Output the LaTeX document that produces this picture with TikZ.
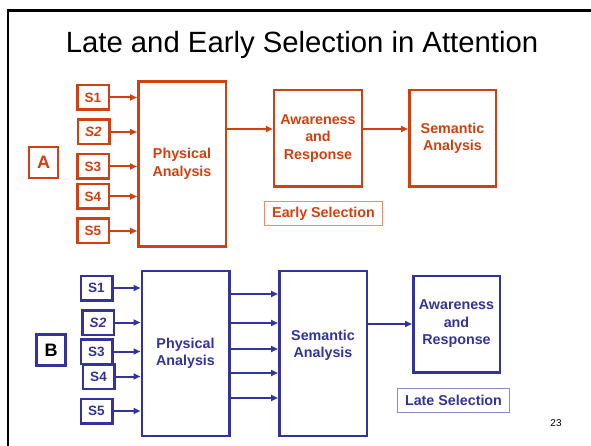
\documentclass[tikz,border=0pt]{standalone}
\usepackage{fontspec}
\setmainfont{Liberation Sans}
\usetikzlibrary{arrows.meta}
\definecolor{earlyred}{RGB}{208,64,16}
\definecolor{earlypale}{RGB}{236,140,112}
\definecolor{lateblue}{RGB}{51,51,153}
\definecolor{latepale}{RGB}{140,140,204}

\begin{document}
\begin{tikzpicture}[x=1pt,y=-1pt,
  every node/.style={font=\fontsize{14.3}{17.5}\selectfont\bfseries, align=center},
  rbox/.style={draw=earlyred, text=earlyred, line width=2.5pt, inner sep=0pt},
  bbox/.style={draw=lateblue, text=lateblue, line width=2.5pt, inner sep=0pt},
  sbox/.style={minimum width=31.5pt, minimum height=24.5pt,
    font=\fontsize{13.5}{16}\selectfont\bfseries},
  bigbox/.style={minimum width=87.5pt, minimum height=165pt},
  midbox/.style={minimum width=88pt, minimum height=96.5pt},
  tagbox/.style={minimum width=29pt, minimum height=31pt,
    font=\fontsize{18}{20}\selectfont\bfseries},
  selbox/.style={line width=1pt, inner sep=0pt, minimum height=24pt},
  rarr/.style={draw=earlyred, line width=2pt, -{Triangle[length=7pt,width=6pt]}},
  barr/.style={draw=lateblue, line width=2pt, -{Triangle[length=7pt,width=6pt]}}
]
\useasboundingbox (0,0) rectangle (591,446);

%% page frame and title
\draw[line width=2.3pt] (7.8,446) -- (7.8,10.5) -- (591,10.5);
\node[font=\fontsize{29.3}{32}\selectfont] (TITLE) at (302,45)
  {Late and Early Selection in Attention};
\node[font=\fontsize{10}{12}\selectfont] (PAGENO) at (556,423) {23};

%% A : early selection
\node[rbox,tagbox] (LA) at (43.5,162.5) {A};
\node[rbox,sbox] (SA1) at (93,97.5)  {S1};
\node[rbox,sbox] (SA2) at (93.5,132) {\itshape S2};
\node[rbox,sbox] (SA3) at (93,166.5) {S3};
\node[rbox,sbox] (SA4) at (93,196.5) {S4};
\node[rbox,sbox] (SA5) at (93,231)   {S5};

\node[rbox,bigbox] (PHYA) at (182,164) {Physical\\Analysis};
\node[rbox,midbox] (AWA)  at (318,138.5) {Awareness\\and\\Response};
\node[rbox,midbox,minimum width=86.5pt] (SEMA) at (452.5,138.5) {Semantic\\Analysis};
\node[selbox,draw=earlypale,text=earlyred,minimum width=118pt] (EARLY) at (323.5,213.5)
  {Early Selection};

\foreach \n in {1,...,5}
  \draw[rarr] (SA\n.east) -- (SA\n.east -| PHYA.west);

\coordinate (AWAIN) at ([yshift=9.5pt]AWA.west);
\draw[rarr] (AWAIN -| PHYA.east) -- (AWAIN);
\draw[rarr] (AWA.east |- AWAIN) -- (SEMA.west |- AWAIN);

%% B : late selection
\node[bbox,tagbox,text=black] (LB) at (51,350) {B};
\node[bbox,sbox] (SB1) at (96.5,288)   {S1};
\node[bbox,sbox] (SB2) at (98,322.5)   {\itshape S2};
\node[bbox,sbox] (SB3) at (96.5,351.5) {S3};
\node[bbox,sbox] (SB4) at (98.5,376.5) {S4};
\node[bbox,sbox] (SB5) at (96.5,411)   {S5};

\node[bbox,bigbox] (PHYB) at (185.5,353.5) {Physical\\Analysis};
\node[bbox,bigbox,label={[text=lateblue,yshift=8pt]center:Semantic\\Analysis}]
  (SEMB) at (323,353.5) {};
\node[bbox,midbox,minimum width=86.5pt] (AWB) at (456.5,324) {Awareness\\and\\Response};
\node[selbox,draw=latepale,text=lateblue,minimum width=112pt] (LATE) at (453.5,400)
  {Late Selection};

\foreach \n in {1,...,5}
  \draw[barr] (SB\n.east) -- (SB\n.east -| PHYB.west);

\foreach \yy in {294,323,349,373,398}
  \draw[barr] (PHYB.east |- 0,\yy) -- (SEMB.west |- 0,\yy);

\draw[barr] (SEMB.east |- AWB.west) -- (AWB.west);

\end{tikzpicture}
\end{document}
